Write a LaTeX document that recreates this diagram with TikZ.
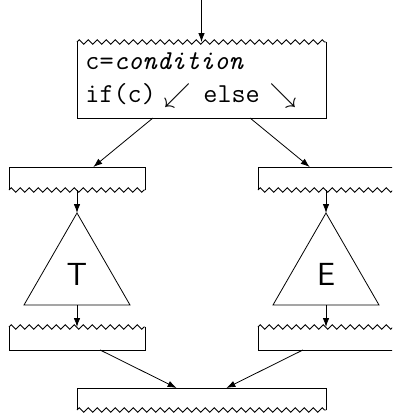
\documentclass[tikz,border=0pt]{standalone}
\usepackage{graphicx}
\usetikzlibrary{decorations.pathmorphing,calc,arrows.meta}
\begin{document}
\begin{tikzpicture}[x=1pt,y=-1pt,line width=0.8pt,
  zz/.style={decorate,decoration={zigzag,segment length=9pt,amplitude=2.3pt}},
  bigbox/.style={inner sep=0,outer sep=0,minimum width=249pt},
  smallbox/.style={inner sep=0,outer sep=0,minimum width=136pt,minimum height=23pt},
  arr/.style={-{Latex[length=9pt,width=6.5pt]}},
  txt/.style={anchor=base west,inner sep=0,font=\fontsize{27.4}{33}\selectfont\ttfamily},
  sym/.style={inner sep=0},
  lbl/.style={inner sep=0,font=\fontsize{32}{32}\selectfont\sffamily}]
\clip (0,0) rectangle (392,413);
% top box
\node[bigbox,minimum height=76pt] (b1) at (201.5,80) {};
\draw (b1.north east) -- (b1.south east) -- (b1.south west) -- (b1.north west);
\draw[zz] (b1.north west) -- (b1.north east);
\node[txt] (l1) at (85,69) {c=\textit{condition}};
\node[txt] (l2a) at (85,102) {if(c)};
\node[sym] (a1) at (177,95.5) {\scalebox{2.7}{$\swarrow$}};
\node[txt] (l2b) at (203,102) {else};
\node[sym] (a2) at (283,95.5) {\scalebox{2.7}{$\searrow$}};
% second row boxes
\node[smallbox] (b2l) at (77,178.5) {};
\node[smallbox] (b2r) at (326,178.5) {};
\foreach \b in {b2l,b2r}{
  \draw (\b.south east) -- (\b.north east) -- (\b.north west) -- (\b.south west);
  \draw[zz] (\b.south west) -- (\b.south east);
}
% triangles
\coordinate (tlA) at (77,213);
\coordinate (tlB) at (77,305);
\draw (tlA) -- (130,305) -- (24,305) -- cycle;
\node[lbl] (T) at (77,274) {T};
\coordinate (trA) at (326,213);
\coordinate (trB) at (326,305);
\draw (trA) -- (379,305) -- (273,305) -- cycle;
\node[lbl] (E) at (326,274) {E};
% third row boxes
\node[smallbox] (b3l) at (77,338.5) {};
\node[smallbox] (b3r) at (326,338.5) {};
\foreach \b in {b3l,b3r}{
  \draw (\b.north east) -- (\b.south east) -- (\b.south west) -- (\b.north west);
  \draw[zz] (\b.north west) -- (\b.north east);
}
% bottom box
\node[bigbox,minimum height=22pt] (b4) at (201.5,399) {};
\draw (b4.south east) -- (b4.north east) -- (b4.north west) -- (b4.south west);
\draw[zz] (b4.south west) -- (b4.south east);
% connectors
\coordinate (in) at (201.5,0);
\draw[arr] (in) -- (b1.north);
\draw[arr] ($(b1.south west)!0.305!(b1.south east)$) -- ($(b2l.north west)!0.62!(b2l.north east)$);
\draw[arr] ($(b1.south west)!0.695!(b1.south east)$) -- ($(b2r.north west)!0.38!(b2r.north east)$);
\draw[arr] (b2l.south) -- (tlA);
\draw[arr] (b2r.south) -- (trA);
\draw[arr] (tlB) -- (b3l.north);
\draw[arr] (trB) -- (b3r.north);
\draw[arr] ($(b3l.south west)!0.67!(b3l.south east)$) -- ($(b4.north west)!0.40!(b4.north east)$);
\draw[arr] ($(b3r.south west)!0.33!(b3r.south east)$) -- ($(b4.north west)!0.60!(b4.north east)$);
\end{tikzpicture}
\end{document}
